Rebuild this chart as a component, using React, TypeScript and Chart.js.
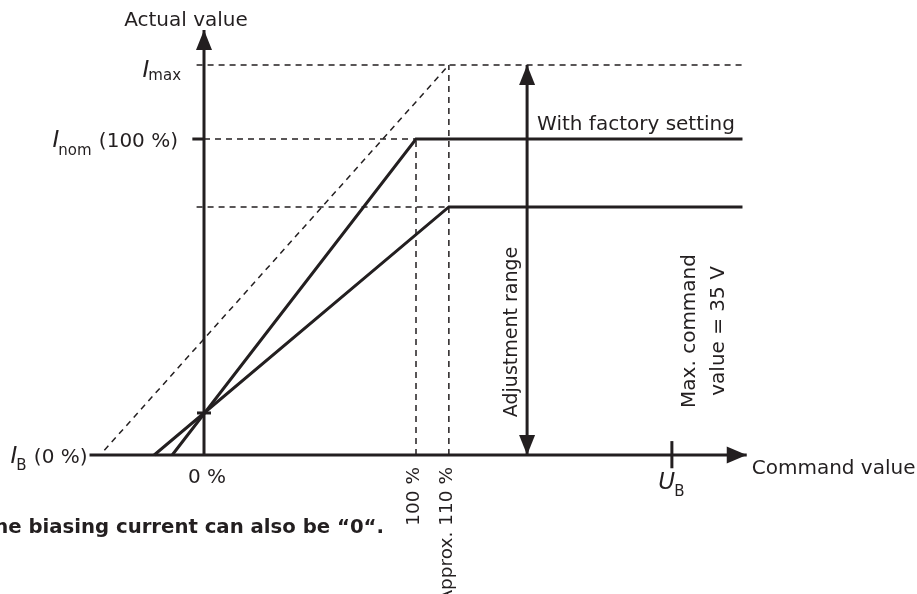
import React, { useEffect, useRef } from "react";
import { Chart, registerables } from "chart.js";

Chart.register(...registerables);

const INK = "#231f20";
const FONT = '"DejaVu Sans", "Liberation Sans", Arial, sans-serif';

// x: command value (% of nominal), y: actual value (% of I_nom)
const commandAxisX = [-54, 256];
const actualAxisY = [0, 134.5];

// characteristic curves
const factoryX = [-15, 100, 254];
const factoryY = [0, 100, 100];
const reducedX = [-23.5, 115.5, 254];
const reducedY = [0, 78.5, 78.5];
const maxLineX = [-47, 115.5];
const maxLineY = [1.5, 123.4];

// horizontal guide levels (I_max, I_nom, reduced setting)
const levelY = [123.4, 100, 78.5];
const levelFromX = [-3.5, 0, -3.5];
const levelToX = [254, 100, 115.5];

// vertical guides on the command axis
const markerX = [100, 115.5];
const markerTopY = [100, 123.4];
const markerLabels = ["100 %", "Approx. 110 %"];

const adjustmentX = [152.4, 152.4];
const adjustmentY = [0, 123.4];
const biasVoltageX = 220.7; // U_B
const crossingY = 13.3;

// tick stubs
const nomTickX = [-5.5, 0];
const crossTickX = [-3.3, 3.3];
const biasTickY = [-4.2, 4.4];

const xScaleRange = [-96.23, 336.32];
const yScaleRange = [-43.99, 143.99];

const pts = (xs: number[], ys: number[]) => xs.map((v, i) => ({ x: v, y: ys[i] }));
const solid = (data: any) => ({
  data,
  borderColor: INK,
  backgroundColor: INK,
  borderWidth: 3,
  borderDash: [] as number[],
  pointRadius: 0,
  showLine: true,
  fill: false,
  tension: 0,
  borderJoinStyle: "miter",
  borderCapStyle: "butt",
});
const dashed = (data: any) => ({ ...solid(data), borderWidth: 1.5, borderDash: [6, 5] });

function arrow(ctx: CanvasRenderingContext2D, tx: number, ty: number, dir: string, len = 20, half = 8) {
  ctx.beginPath();
  if (dir === "up") {
    ctx.moveTo(tx, ty); ctx.lineTo(tx - half, ty + len); ctx.lineTo(tx + half, ty + len);
  } else if (dir === "down") {
    ctx.moveTo(tx, ty); ctx.lineTo(tx - half, ty - len); ctx.lineTo(tx + half, ty - len);
  } else {
    ctx.moveTo(tx, ty); ctx.lineTo(tx - len, ty - half); ctx.lineTo(tx - len, ty + half);
  }
  ctx.closePath();
  ctx.fill();
}

const F_MAIN = `20px ${FONT}`;
const F_ROT = `19px ${FONT}`;
const F_IT = `italic 23px ${FONT}`;
const F_SUB = `15px ${FONT}`;

function subLabel(ctx: CanvasRenderingContext2D, letter: string, sub: string, rest: string, rightX: number, baseY: number, subDy: number) {
  ctx.textAlign = "left";
  ctx.textBaseline = "alphabetic";
  ctx.font = F_IT; const wI = ctx.measureText(letter).width;
  ctx.font = F_SUB; const wS = ctx.measureText(sub).width;
  ctx.font = F_MAIN; const wR = rest ? ctx.measureText(" " + rest).width : 0;
  let x = rightX - wI - wS - wR;
  ctx.font = F_IT; ctx.fillText(letter, x, baseY); x += wI;
  ctx.font = F_SUB; ctx.fillText(sub, x - 1, baseY + subDy); x += wS;
  if (rest) { ctx.font = F_MAIN; ctx.fillText(" " + rest, x, baseY); }
}

function vText(ctx: CanvasRenderingContext2D, text: string, x: number, y: number, align: CanvasTextAlign) {
  ctx.save();
  ctx.translate(x, y);
  ctx.rotate(-Math.PI / 2);
  ctx.textAlign = align;
  ctx.textBaseline = "middle";
  ctx.fillText(text, 0, 0);
  ctx.restore();
}

const annotate = {
  id: "annotate",
  afterDatasetsDraw(chart: any) {
    const { ctx } = chart;
    const X = (v: number) => chart.scales.x.getPixelForValue(v);
    const Y = (v: number) => chart.scales.y.getPixelForValue(v);
    ctx.save();
    ctx.fillStyle = INK;
    // arrowheads
    arrow(ctx, X(0), Y(actualAxisY[1]), "up");
    arrow(ctx, X(commandAxisX[1]), Y(0), "right", 20, 8.5);
    arrow(ctx, X(adjustmentX[1]), Y(adjustmentY[1]), "up");
    arrow(ctx, X(adjustmentX[0]), Y(adjustmentY[0]), "down");

    // axis titles
    ctx.font = F_MAIN;
    ctx.textBaseline = "alphabetic";
    ctx.textAlign = "center";
    ctx.fillText("Actual value", X(0) - 18, Y(actualAxisY[1]) - 4);
    ctx.textAlign = "left";
    ctx.fillText("Command value", X(commandAxisX[1]) + 5, Y(0) + 19);
    ctx.fillText("With factory setting", X(adjustmentX[0]) + 10, Y(levelY[1]) - 9);
    ctx.textAlign = "center";
    ctx.fillText("0 %", X(0) + 3, Y(0) + 28);

    // level labels
    subLabel(ctx, "I", "max", "", X(0) - 22, Y(levelY[0]) + 12, 3);
    subLabel(ctx, "I", "nom", "(100 %)", X(0) - 26, Y(levelY[1]) + 8, 8);
    subLabel(ctx, "I", "B", "(0 %)", X(commandAxisX[0]) - 2, Y(0) + 8, 7);

    // U_B
    ctx.font = F_IT; const wU = ctx.measureText("U").width;
    ctx.font = F_SUB; const wB = ctx.measureText("B").width;
    const ux = X(biasVoltageX) - (wU + wB) / 2;
    ctx.textAlign = "left";
    ctx.font = F_IT; ctx.fillText("U", ux, Y(0) + 34);
    ctx.font = F_SUB; ctx.fillText("B", ux + wU - 1, Y(0) + 41);

    // rotated labels
    ctx.font = `18.5px ${FONT}`;
    markerLabels.forEach((t, i) => vText(ctx, t, X(markerX[i]) - 2, Y(0) + 12, "right"));
    ctx.font = F_ROT;
    const midY = (Y(0) + Y(levelY[2])) / 2;
    vText(ctx, "Adjustment range", X(adjustmentX[0]) - 15, midY + 1, "center");
    ctx.font = F_MAIN;
    vText(ctx, "Max. command", X(biasVoltageX) + 18, midY, "center");
    vText(ctx, "value = 35 V", X(biasVoltageX) + 47, midY, "center");

    // footnote
    ctx.font = `bold 19.7px ${FONT}`;
    ctx.textAlign = "right";
    ctx.textBaseline = "alphabetic";
    ctx.fillText("The biasing current can also be \u201C0\u201C.", X(markerX[0]) - 32, Y(0) + 78);
    ctx.restore();
  },
};

export default function App() {
  const ref = useRef<HTMLCanvasElement | null>(null);
  useEffect(() => {
    if (!ref.current) return;
    const datasets: any[] = [
      dashed(pts(maxLineX, maxLineY)),
      ...levelY.map((ly, i) => dashed(pts([levelFromX[i], levelToX[i]], [ly, ly]))),
      ...markerX.map((mx, i) => dashed(pts([mx, mx], [0, markerTopY[i]]))),
      solid(pts(commandAxisX, [0, 0])),
      solid(pts([0, 0], actualAxisY)),
      solid(pts(factoryX, factoryY)),
      solid(pts(reducedX, reducedY)),
      solid(pts(adjustmentX, adjustmentY)),
      solid(pts(nomTickX, [levelY[1], levelY[1]])),
      solid(pts(crossTickX, [crossingY, crossingY])),
      solid(pts([biasVoltageX, biasVoltageX], biasTickY)),
    ];
    const chart = new Chart(ref.current, {
      type: "scatter",
      data: { datasets },
      options: {
        animation: false,
        responsive: false,
        maintainAspectRatio: false,
        events: [],
        layout: { padding: 0 },
        plugins: { legend: { display: false }, tooltip: { enabled: false }, title: { display: false } },
        scales: {
          x: { type: "linear", min: xScaleRange[0], max: xScaleRange[1], display: false },
          y: { type: "linear", min: yScaleRange[0], max: yScaleRange[1], display: false },
        },
      },
      plugins: [annotate],
    } as any);
    return () => chart.destroy();
  }, []);
  return (
    <div style={{ position: "fixed", left: 0, top: 0, width: 917, height: 594, background: "#fff" }}>
      <canvas ref={ref} width={917} height={594} style={{ display: "block", width: 917, height: 594 }} />
    </div>
  );
}
